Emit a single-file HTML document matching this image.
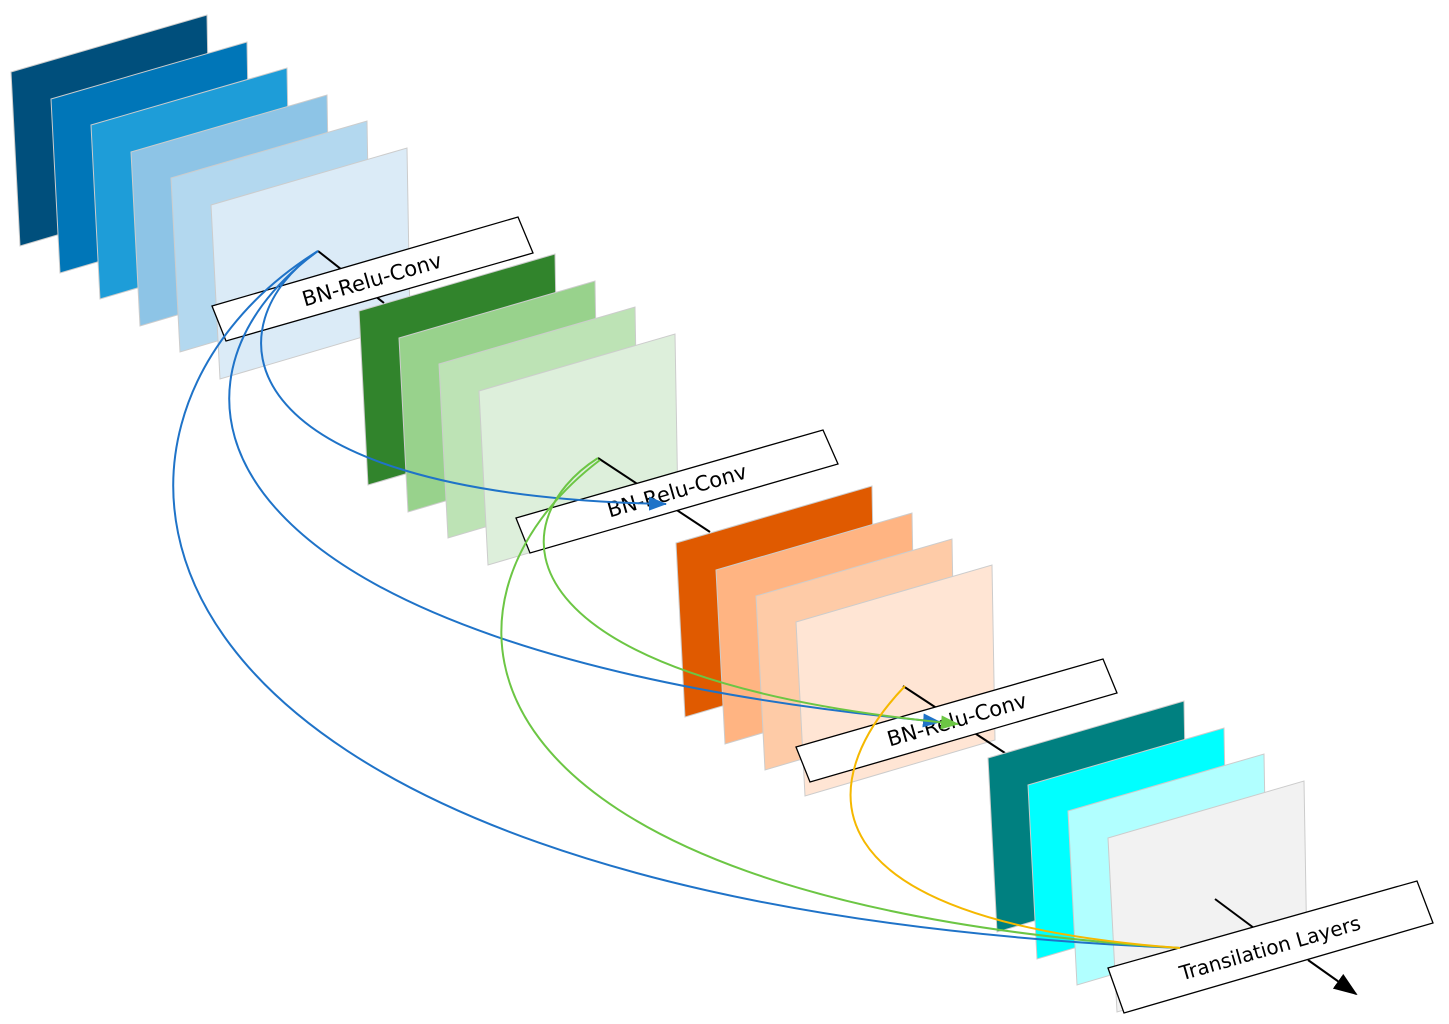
<!DOCTYPE html>
<html><head><meta charset="utf-8"><style>html,body{margin:0;padding:0;background:#fff}svg{display:block}</style></head>
<body>
<svg width="1449" height="1024" viewBox="0 0 1449 1024" xmlns="http://www.w3.org/2000/svg" font-family="DejaVu Sans, Liberation Sans, sans-serif">
<defs>
<marker id="ab" markerWidth="18" markerHeight="14" refX="17" refY="7" orient="auto" markerUnits="userSpaceOnUse" viewBox="0 0 18 14"><path d="M0,0 L18,7 L0,14 Z" fill="#1f73c8"/></marker>
<marker id="ag" markerWidth="18" markerHeight="14" refX="17" refY="7" orient="auto" markerUnits="userSpaceOnUse" viewBox="0 0 18 14"><path d="M0,0 L18,7 L0,14 Z" fill="#6cc644"/></marker>
<marker id="ak" markerWidth="24" markerHeight="18" refX="22" refY="9" orient="auto" markerUnits="userSpaceOnUse" viewBox="0 0 24 18"><path d="M0,0 L24,9 L0,18 Z" fill="#000"/></marker>
<g id="p"><path d="M0,0 L196,-57 L199,118 L9,174 Z" stroke="#cccccc" stroke-width="1"/></g>
</defs>
<g>
<use href="#p" x="11" y="72" fill="#004f7c"/>
<use href="#p" x="51" y="99" fill="#0076b8"/>
<use href="#p" x="91" y="125" fill="#1e9dd8"/>
<use href="#p" x="131" y="152" fill="#8dc4e6"/>
<use href="#p" x="171" y="178" fill="#b3d8ef"/>
<use href="#p" x="211" y="205" fill="#dbebf7"/>
</g>
<line x1="318" y1="251" x2="384" y2="303" stroke="#000" stroke-width="2"/>
<polygon points="212,306 518,217 533,253 226,341" fill="#fff" stroke="#000" stroke-width="1.3"/>
<text x="372" y="287" font-size="21" text-anchor="middle" transform="rotate(-16 372 280)">BN-Relu-Conv</text>
<g>
<use href="#p" x="359" y="311" fill="#31842c"/>
<use href="#p" x="399" y="338" fill="#98d28c"/>
<use href="#p" x="439" y="364" fill="#bde3b5"/>
<use href="#p" x="479" y="391" fill="#ddefdb"/>
</g>
<line x1="598" y1="458" x2="710" y2="532" stroke="#000" stroke-width="2"/>
<polygon points="516,518 823,430 838,464 530,553" fill="#fff" stroke="#000" stroke-width="1.3"/>
<text x="677" y="498" font-size="21" text-anchor="middle" transform="rotate(-16 677 491)">BN-Relu-Conv</text>
<g>
<use href="#p" x="676" y="543" fill="#e05a00"/>
<use href="#p" x="716" y="570" fill="#ffb482"/>
<use href="#p" x="756" y="596" fill="#fecba7"/>
<use href="#p" x="796" y="622" fill="#ffe5d4"/>
</g>
<line x1="903" y1="686" x2="1005" y2="753" stroke="#000" stroke-width="2"/>
<polygon points="796,747 1103,659 1117,693 810,782" fill="#fff" stroke="#000" stroke-width="1.3"/>
<text x="957" y="727" font-size="21" text-anchor="middle" transform="rotate(-16 957 720)">BN-Relu-Conv</text>
<g>
<use href="#p" x="988" y="758" fill="#008080"/>
<use href="#p" x="1028" y="785" fill="#00ffff"/>
<use href="#p" x="1068" y="811" fill="#b1ffff"/>
<use href="#p" x="1108" y="838" fill="#f2f2f2"/>
</g>
<line x1="1215" y1="899" x2="1262" y2="934" stroke="#000" stroke-width="2"/>
<polygon points="1108,968 1417,881 1433,923 1124,1013" fill="#fff" stroke="#000" stroke-width="1.3"/>
<text x="1270" y="955" font-size="20" text-anchor="middle" transform="rotate(-16 1270 948)">Transilation Layers</text>
<line x1="1308" y1="960" x2="1356" y2="994" stroke="#000" stroke-width="2" marker-end="url(#ak)"/>
<g fill="none" stroke-width="2">
<path d="M318,251 C215,320 210,495 666,504" stroke="#1f73c8" marker-end="url(#ab)"/>
<path d="M318,251 C140,380 175,650 940,722" stroke="#1f73c8" marker-end="url(#ab)"/>
<path d="M318,251 C45,420 70,900 1180,948" stroke="#1f73c8"/>
<path d="M598,458 C500,520 490,680 958,724" stroke="#6cc644" marker-end="url(#ag)"/>
<path d="M600,460 C415,600 430,900 1180,948" stroke="#6cc644"/>
<path d="M905,686 C815,780 795,920 1180,948" stroke="#f5b800"/>
</g>
</svg>
</body></html>
